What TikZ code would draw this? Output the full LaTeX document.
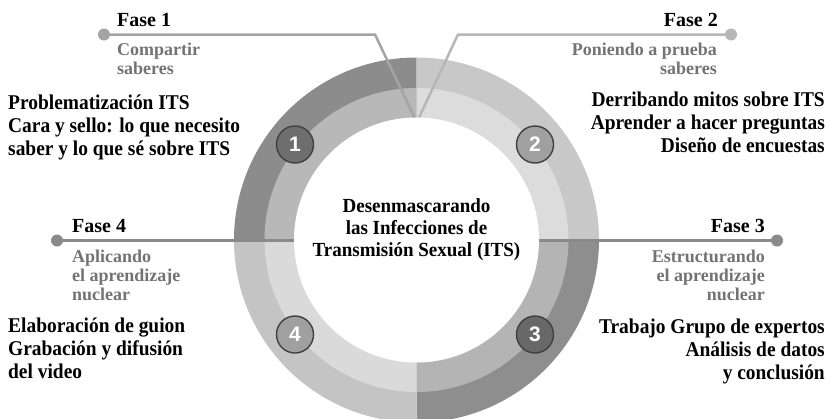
\documentclass[tikz,border=0pt]{standalone}
\usepackage{fontspec}
\setmainfont{Liberation Serif}
\newfontfamily\numfont{Liberation Sans}
\newfontfamily\condfont[FakeStretch=0.925]{Liberation Serif}
\newfontfamily\semicondfont[FakeStretch=0.95]{Liberation Serif}
\definecolor{qAout}{HTML}{8C8C8C}
\definecolor{qAmid}{HTML}{B8B8B8}
\definecolor{qBout}{HTML}{C8C8C8}
\definecolor{qBmid}{HTML}{DCDCDC}
\definecolor{qCout}{HTML}{8E8E8E}
\definecolor{qCmid}{HTML}{B4B4B4}
\definecolor{qDout}{HTML}{C4C4C4}
\definecolor{qDmid}{HTML}{DADADA}
\definecolor{subgray}{HTML}{737373}
\definecolor{numdark}{HTML}{6E6E6E}
\definecolor{numlight}{HTML}{A0A0A0}
\definecolor{numborder}{HTML}{404040}
\definecolor{lineA}{HTML}{A4A4A4}
\definecolor{lineB}{HTML}{B6B6B6}
\definecolor{lineH}{HTML}{8A8A8A}
\newcommand\ringsector[4]{\fill[#1] (C) -- ++(#2:#4) arc[start angle=#2, end angle=#3, radius=#4] -- cycle;}
\begin{document}
\begin{tikzpicture}[x=1pt,y=-1pt,
  fase/.style={inner sep=0pt, font=\fontsize{20}{23}\selectfont\bfseries},
  subtxt/.style={inner sep=0pt, text=subgray, font=\fontsize{18}{19}\selectfont\bfseries},
  maintxt/.style={inner sep=0pt, font=\condfont\fontsize{21}{23}\selectfont\bfseries},
  centertxt/.style={inner sep=0pt, align=center, font=\semicondfont\fontsize{20}{22}\selectfont\bfseries},
  dotA/.style={circle, fill=lineA, minimum size=12pt, inner sep=0pt},
  dotB/.style={circle, fill=lineB, minimum size=12pt, inner sep=0pt},
  dotH/.style={circle, fill=lineH, minimum size=12pt, inner sep=0pt},
  numcirc/.style={circle, draw=numborder, line width=1.4pt, minimum size=37pt, inner sep=0pt,
    text=white, font=\numfont\fontsize{21}{21}\selectfont\bfseries},
  conn/.style={line width=2.5pt}
]
\useasboundingbox (0,0) rectangle (830,418);
\clip (0,0) rectangle (830,418);
\coordinate (C) at (416.5,240);
% outer band
\ringsector{qAout}{180}{270}{182.5}
\ringsector{qBout}{270}{360}{182.5}
\ringsector{qCout}{0}{90}{182.5}
\ringsector{qDout}{90}{180}{182.5}
% middle band
\ringsector{qAmid}{180}{270}{152}
\ringsector{qBmid}{270}{360}{152}
\ringsector{qCmid}{0}{90}{152}
\ringsector{qDmid}{90}{180}{152}
% connectors
\node[dotA] (d1) at (104,34.5) {};
\node[dotB] (d2) at (731,34.5) {};
\node[dotH] (d3) at (777,240.5) {};
\node[dotH] (d4) at (57,240.5) {};
\coordinate (b1) at (375,34.5);
\coordinate (e1) at (414.5,117.5);
\coordinate (b2) at (458,34.5);
\coordinate (e2) at (419,117.5);
\coordinate (e3) at (538,240.5);
\coordinate (e4) at (294,240.5);
\draw[conn, lineA] (d1.center) -- (b1) -- (e1);
\draw[conn, lineB] (d2.center) -- (b2) -- (e2);
\draw[conn, lineH] (d3.center) -- (e3);
\draw[conn, lineH] (d4.center) -- (e4);
% inner white
\fill[white] (C) circle[radius=122.5];
% number circles
\node[numcirc, fill=numdark] (n1) at (295,144.5) {1};
\node[numcirc, fill=numlight] (n2) at (535,144.5) {2};
\node[numcirc, fill=numdark!95!black] (n3) at (535,334.5) {3};
\node[numcirc, fill=numlight] (n4) at (295,334.5) {4};
% center text
\node[centertxt, anchor=north] (title) at (416.5,198.5) {Desenmascarando\\las Infecciones de\\Transmisión Sexual (ITS)};
% phase labels
\node[fase, anchor=base west] (f1) at (117,26.5) {Fase 1};
\node[fase, anchor=base east] (f2) at (718,26.5) {Fase 2};
\node[fase, anchor=base east] (f3) at (765,232) {Fase 3};
\node[fase, anchor=base west] (f4) at (72,232) {Fase 4};
% subtitles
\node[subtxt, anchor=north west, align=left] (s1) at (117,42.5) {Compartir\\saberes};
\node[subtxt, anchor=north east, align=right] (s2) at (717,42.5) {Poniendo a prueba\\saberes};
\node[subtxt, anchor=north east, align=right] (s3) at (765,250) {Estructurando\\el aprendizaje\\nuclear};
\node[subtxt, anchor=north west, align=left] (s4) at (72,250) {Aplicando\\el aprendizaje\\nuclear};
% activity lists
\node[maintxt, anchor=north west, align=left] (a1) at (8,94.5) {Problematización ITS\\Cara y sello: lo que necesito\\saber y lo que sé sobre ITS};
\node[maintxt, anchor=north east, align=right] (a2) at (825,92) {Derribando mitos sobre ITS\\Aprender a hacer preguntas\\Diseño de encuestas};
\node[maintxt, anchor=north east, align=right] (a3) at (825,318.5) {Trabajo Grupo de expertos\\Análisis de datos\\y conclusión};
\node[maintxt, anchor=north west, align=left] (a4) at (8,318) {Elaboración de guion\\Grabación y difusión\\del video};
\end{tikzpicture}
\end{document}
